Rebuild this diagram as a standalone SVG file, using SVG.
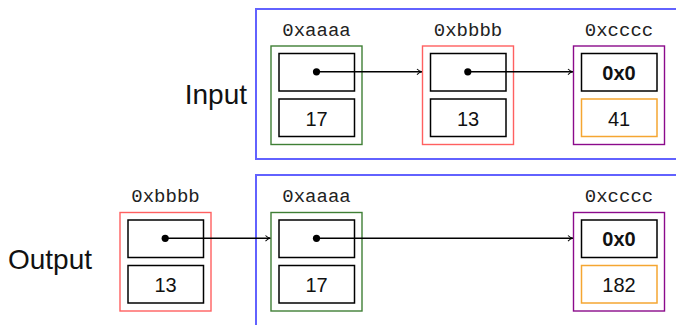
<svg xmlns="http://www.w3.org/2000/svg" width="676" height="325" viewBox="0 0 676 325">
<defs>
<style>
.frame{fill:none;stroke:#6262ff;stroke-width:2}
.cell{fill:none;stroke-width:1.4}
.green{stroke:#3f7f35}
.red{stroke:#ff6060}
.purple{stroke:#8b0a8b}
.box{fill:none;stroke:#000;stroke-width:1.5}
.obox{fill:none;stroke:#f5a632;stroke-width:1.5}
.addr{font-family:"Liberation Mono",monospace;font-size:19px;fill:#222;text-anchor:middle}
.val{font-family:"Liberation Sans",Arial,sans-serif;font-size:20px;fill:#111;text-anchor:middle}
.nil{font-family:"Liberation Sans",Arial,sans-serif;font-size:20px;font-weight:bold;fill:#111;text-anchor:middle}
.title{font-family:"Liberation Sans",Arial,sans-serif;font-size:28px;fill:#111;text-anchor:end}
.link{stroke:#000;stroke-width:1.4;fill:none;marker-end:url(#arr)}
</style>
<marker id="arr" viewBox="0 0 10 10" refX="9" refY="5" markerWidth="8" markerHeight="8" markerUnits="userSpaceOnUse" orient="auto">
<path d="M3,1.5 Q6,4.5 9,5 Q6,5.5 3,8.5" fill="none" stroke="#000" stroke-width="1.3"/>
</marker>
</defs>

<g id="input-label"><text class="title" x="247" y="103.5">Input</text></g>
<g id="output-label"><text class="title" x="92" y="268.5">Output</text></g>

<g id="input-frame"><rect class="frame" x="256" y="9" width="430" height="150"/></g>
<g id="output-frame"><rect class="frame" x="256" y="175" width="430" height="160"/></g>

<g id="in-a">
<text class="addr" x="316.5" y="36">0xaaaa</text>
<rect class="cell green" x="271" y="46" width="91" height="98.5"/>
<rect class="box" x="279" y="53.5" width="75.5" height="37.5"/>
<rect class="box" x="279" y="99" width="75.5" height="37.5"/>
<circle cx="316.5" cy="71.8" r="3.6" fill="#000"/>
<text class="val" x="316.5" y="125.5">17</text>
</g>

<g id="in-b">
<text class="addr" x="468" y="36">0xbbbb</text>
<rect class="cell red" x="422.5" y="46" width="91" height="98.5"/>
<rect class="box" x="430.5" y="53.5" width="75.5" height="37.5"/>
<rect class="box" x="430.5" y="99" width="75.5" height="37.5"/>
<circle cx="467.8" cy="71.8" r="3.6" fill="#000"/>
<text class="val" x="468" y="125.5">13</text>
</g>

<g id="in-c">
<text class="addr" x="619" y="36">0xcccc</text>
<rect class="cell purple" x="573.5" y="46" width="91" height="98.5"/>
<rect class="box" x="581.5" y="53.5" width="75.5" height="37.5"/>
<rect class="obox" x="581.5" y="99" width="75.5" height="37.5"/>
<text class="nil" x="619" y="79.5">0x0</text>
<text class="val" x="619" y="125.5">41</text>
</g>

<g id="out-b">
<text class="addr" x="165.5" y="202">0xbbbb</text>
<rect class="cell red" x="120" y="212.5" width="91" height="98.5"/>
<rect class="box" x="128" y="220" width="75.5" height="37.5"/>
<rect class="box" x="128" y="265.5" width="75.5" height="37.5"/>
<circle cx="165.2" cy="238.3" r="3.6" fill="#000"/>
<text class="val" x="165.5" y="292">13</text>
</g>

<g id="out-a">
<text class="addr" x="316.5" y="202">0xaaaa</text>
<rect class="cell green" x="271" y="212.5" width="91" height="98.5"/>
<rect class="box" x="279" y="220" width="75.5" height="37.5"/>
<rect class="box" x="279" y="265.5" width="75.5" height="37.5"/>
<circle cx="316.5" cy="238.3" r="3.6" fill="#000"/>
<text class="val" x="316.5" y="292">17</text>
</g>

<g id="out-c">
<text class="addr" x="619" y="202">0xcccc</text>
<rect class="cell purple" x="573.5" y="212.5" width="91" height="98.5"/>
<rect class="box" x="581.5" y="220" width="75.5" height="37.5"/>
<rect class="obox" x="581.5" y="265.5" width="75.5" height="37.5"/>
<text class="nil" x="619" y="246">0x0</text>
<text class="val" x="619" y="292">182</text>
</g>

<g id="connectors">
<line class="link" x1="316.5" y1="71.8" x2="421.8" y2="71.8"/>
<line class="link" x1="467.8" y1="71.8" x2="572.8" y2="71.8"/>
<line class="link" x1="165.2" y1="238.3" x2="270.3" y2="238.3"/>
<line class="link" x1="316.5" y1="238.3" x2="572.8" y2="238.3"/>
</g>
</svg>
